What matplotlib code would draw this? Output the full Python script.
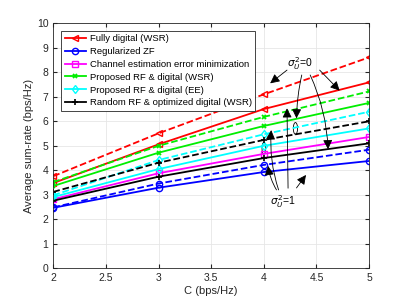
import numpy as np
import matplotlib
matplotlib.use('Agg')
import matplotlib.pyplot as plt
from matplotlib.patches import Ellipse

plt.rcParams['font.family'] = ['Liberation Sans', 'DejaVu Sans']
plt.rcParams['font.size'] = 7.5

C = [2, 3, 4, 5]

# solid lines: sigma_U^2 = 1, dashed lines: sigma_U^2 = 0
fully_digital = [3.48, 5.06, 6.50, 7.59]
fully_digital_0 = [3.76, 5.51, 7.10, 8.61]
reg_zf = [2.47, 3.29, 3.93, 4.38]
reg_zf_0 = [2.49, 3.46, 4.22, 4.84]
ch_est = [2.82, 3.88, 4.67, 5.36]
prop_wsr = [3.36, 4.72, 5.81, 6.75]
prop_wsr_0 = [3.52, 5.00, 6.18, 7.22]
prop_ee = [2.91, 4.05, 5.00, 5.71]
prop_ee_0 = [2.98, 4.42, 5.47, 6.39]
rand_rf = [2.76, 3.74, 4.50, 5.10]
rand_rf_0 = [3.12, 4.31, 5.24, 6.00]

labels = ['Fully digital (WSR)', 'Regularized ZF',
          'Channel estimation error minimization',
          'Proposed RF & digital (WSR)', 'Proposed RF & digital (EE)',
          'Random RF & optimized digital (WSR)']

fig = plt.figure(figsize=(4.08, 3.01), dpi=100)
ax = fig.add_axes([0.1307, 0.1086, 0.774, 0.814])

lw = 1.3
ms = 4.5
ax.plot(C, fully_digital, '-<', color='red', lw=lw, ms=ms, mfc='none', label=labels[0])
ax.plot(C, reg_zf, '-o', color='blue', lw=lw, ms=ms, mfc='none', label=labels[1])
ax.plot(C, ch_est, '-s', color='magenta', lw=lw, ms=ms, mfc='none', label=labels[2])
ax.plot(C, prop_wsr, '-x', color='#00ee00', lw=lw, ms=3.5, mew=1.3, label=labels[3])
ax.plot(C, prop_ee, '-d', color='cyan', lw=lw, ms=ms, mfc='none', label=labels[4])
ax.plot(C, rand_rf, '-+', color='black', lw=lw, ms=ms, mew=1.2, label=labels[5])

ax.plot(C, fully_digital_0, '--<', color='red', lw=lw, ms=ms, mfc='none')
ax.plot(C, reg_zf_0, '--o', color='blue', lw=lw, ms=ms, mfc='none')
ax.plot(C, prop_wsr_0, '--x', color='#00ee00', lw=lw, ms=3.5, mew=1.3)
ax.plot(C, prop_ee_0, '--d', color='cyan', lw=lw, ms=ms, mfc='none')
ax.plot(C, rand_rf_0, '--+', color='black', lw=lw, ms=ms, mew=1.2)

ax.set_xlim(2, 5)
ax.set_ylim(0, 10)
ax.set_xticks([2, 2.5, 3, 3.5, 4, 4.5, 5])
ax.set_xticklabels(['2', '2.5', '3', '3.5', '4', '4.5', '5'])
ax.set_yticks(range(0, 11))
ax.grid(True, color='#e6e6e6', lw=0.6)
ax.set_axisbelow(True)
ax.tick_params(direction='in', length=3, top=True, right=True, colors='#262626', labelsize=7.5)
for s in ax.spines.values():
    s.set_color('#262626')
    s.set_linewidth(0.6)
ax.set_xlabel('C (bps/Hz)', fontsize=8, color='#262626', labelpad=2)
ax.set_ylabel('Average sum-rate (bps/Hz)', fontsize=8, color='#262626', labelpad=2)

leg = ax.legend(loc='upper left', bbox_to_anchor=(0.025, 0.97), fontsize=6.8,
                handlelength=2.2, handletextpad=0.4, borderpad=0.4,
                labelspacing=0.4, fancybox=False, framealpha=1,
                edgecolor='#262626', borderaxespad=0)
leg.get_frame().set_linewidth(0.6)

aprops = dict(arrowstyle='-|>', color='black', lw=0.6, mutation_scale=14,
              shrinkA=0, shrinkB=0)

# sigma_U^2 = 0 annotations
ax.text(4.34, 8.35, r'$\sigma_U^2$=0', ha='center', va='center', fontsize=7.5)
ax.annotate('', xy=(4.06, 7.55), xytext=(4.22, 8.09), arrowprops=aprops)
ax.annotate('', xy=(4.72, 7.25), xytext=(4.53, 8.09), arrowprops=aprops)
ax.annotate('', xy=(4.31, 6.12), xytext=(4.36, 7.89),
            arrowprops=dict(aprops, connectionstyle='arc3,rad=0.05'))
ax.annotate('', xy=(4.61, 4.86), xytext=(4.44, 7.89),
            arrowprops=dict(aprops, connectionstyle='arc3,rad=-0.1'))

# sigma_U^2 = 1 annotations
ax.text(4.18, 2.72, r'$\sigma_U^2$=1', ha='center', va='center', fontsize=7.5)
ax.annotate('', xy=(4.07, 5.64), xytext=(4.14, 3.2),
            arrowprops=dict(aprops, connectionstyle='arc3,rad=-0.1'))
ax.annotate('', xy=(4.04, 4.18), xytext=(4.12, 3.2),
            arrowprops=dict(aprops, connectionstyle='arc3,rad=-0.1'))
ax.annotate('', xy=(4.22, 6.53), xytext=(4.23, 3.27), arrowprops=aprops)
ax.annotate('', xy=(4.40, 3.81), xytext=(4.31, 3.28), arrowprops=aprops)

# small ellipses marking the curve groups
ax.add_patch(Ellipse((4.30, 5.71), 0.04, 0.48, fill=False, lw=0.6, color='black'))
ax.add_patch(Ellipse((4.00, 4.90), 0.035, 0.48, fill=False, lw=0.6, color='black'))

fig.savefig('out.png', dpi=100)
